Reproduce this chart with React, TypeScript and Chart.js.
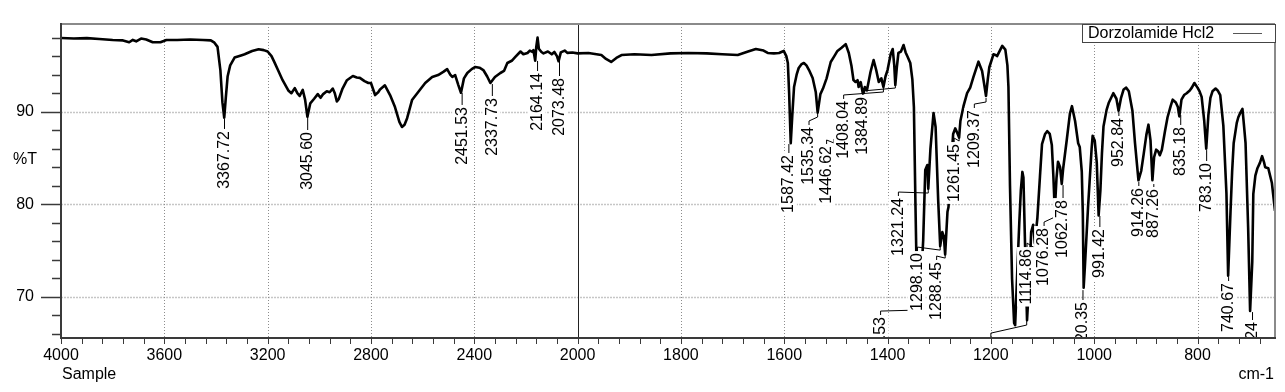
import React, { useEffect, useRef } from "react";
import { Chart, registerables } from "chart.js";

Chart.register(...registerables);

const FONT = 'Arial, "Liberation Sans", sans-serif';

// ---- Spectrum (wavenumber cm-1, %T) ----
const wavenumbers = [
  4000, 3950, 3900, 3852, 3800, 3760, 3736, 3722, 3709, 3690, 3670, 3645, 3615, 3592, 3550, 3500, 3450, 3420,
  3406, 3394, 3383, 3375, 3368, 3362, 3355, 3345, 3328, 3300, 3289, 3260, 3235, 3215, 3200, 3185, 3173, 3160,
  3142, 3120, 3108, 3095, 3085, 3076, 3064, 3055, 3046, 3035, 3020, 3006, 2995, 2985, 2971, 2960, 2948, 2940,
  2932, 2925, 2910, 2893, 2870, 2855, 2843, 2825, 2810, 2800, 2784, 2772, 2765, 2746, 2726, 2707, 2690, 2680,
  2670, 2660, 2641, 2617, 2590, 2563, 2540, 2520, 2505, 2493, 2485, 2474, 2462, 2451.5, 2440, 2427, 2410, 2396,
  2380, 2365, 2350, 2337.7, 2320, 2299, 2285, 2272, 2255, 2241, 2221, 2210, 2194, 2185, 2175, 2171, 2164.1, 2160,
  2155, 2150, 2140, 2132, 2115, 2100, 2090, 2080, 2073.5, 2065, 2050, 2039, 2020, 2000,
  1979, 1954, 1945, 1935, 1925, 1915, 1890, 1857, 1820, 1786, 1750, 1720, 1690, 1670, 1655, 1640, 1632, 1620,
  1610, 1601, 1596, 1593, 1590.5, 1587.4, 1584, 1581, 1576, 1572, 1567, 1562, 1557, 1552, 1545, 1539, 1535.3,
  1530, 1525, 1518, 1510, 1503, 1497, 1489, 1481, 1475, 1470, 1466, 1462, 1458, 1456, 1452, 1448, 1446.6, 1444,
  1440, 1433, 1427, 1422, 1417, 1412, 1408, 1404, 1400, 1394, 1390, 1387, 1385, 1382, 1379, 1374, 1369, 1365,
  1361, 1356, 1352, 1349, 1346, 1343, 1341, 1339, 1336, 1334, 1331, 1327, 1323, 1321.2, 1317, 1311, 1307, 1302, 1298.1,
  1294, 1291, 1288.5, 1284, 1282, 1278, 1275, 1273, 1269, 1265, 1261.5, 1259, 1253, 1246, 1240, 1234, 1224,
  1217, 1213, 1209.4, 1206, 1203, 1195, 1190, 1188, 1178, 1172, 1168, 1166, 1163, 1159, 1155, 1153, 1149, 1145,
  1142, 1139, 1137, 1134, 1130, 1126, 1122, 1118, 1114.9, 1110, 1105, 1101, 1095, 1091, 1086, 1082, 1079,
  1076.3, 1073, 1070, 1066, 1062.8, 1060, 1053, 1047, 1043, 1037, 1031, 1028, 1024, 1022, 1020.4, 1018, 1012,
  1005, 1003, 999, 995, 991.4, 988, 985, 982, 976, 972, 963, 957, 952.8, 948, 943, 938, 933, 926, 921, 917,
  914.3, 909, 904, 899, 895, 891, 887.3, 884, 880, 876, 873, 869, 863, 858, 852, 848, 842, 838, 835.2, 831, 826,
  821, 815, 811, 806, 800, 796, 792, 787, 783.1, 779, 775, 771, 765, 761, 756, 750, 744, 740.7, 736, 733, 730,
  724, 721, 717, 713, 710, 707, 702, 698.2, 694, 692, 688, 684, 679, 675, 671, 669, 663, 656, 650,
];
const transmittance = [
  97.96, 97.9, 97.95, 97.85, 97.75, 97.7, 97.5, 97.75, 97.6, 97.9, 97.8, 97.5, 97.5, 97.75, 97.75, 97.8, 97.75, 97.7,
  97.45, 97.0, 94.5, 91.0, 89.35, 91.5, 93.8, 95.0, 95.85, 96.1, 96.2, 96.55, 96.75, 96.65, 96.5, 96.0, 95.3, 94.5,
  93.4, 92.3, 92.0, 92.55, 92.0, 91.7, 92.35, 91.3, 89.45, 90.9, 91.4, 91.9, 91.5, 91.9, 92.2, 92.1, 92.5, 92.0,
  91.1, 91.35, 92.5, 93.4, 93.85, 93.7, 93.65, 93.3, 93.1, 93.1, 91.8, 92.1, 92.4, 92.85, 91.8, 90.5, 88.9, 88.35,
  88.6, 89.3, 91.26, 92.13, 93.1, 93.75, 93.96, 94.3, 94.6, 94.0, 93.75, 93.96, 92.9, 92.05, 93.6, 94.18, 94.6, 94.83,
  94.75, 94.5, 93.8, 93.1, 93.75, 94.18, 94.4, 95.26, 95.5, 95.91, 96.5, 96.2, 96.34, 96.6, 96.45, 96.66, 95.5, 97.0,
  98.0, 96.8, 96.45, 96.3, 96.5, 96.2, 96.45, 96.0, 95.45, 96.4, 96.6, 96.35, 96.4, 96.3,
  96.34, 96.12, 95.7, 95.37, 95.8, 96.12, 96.2, 96.12, 96.3, 96.34, 96.3, 96.2, 96.12, 96.5, 96.77, 96.6, 96.34, 96.3,
  96.34, 96.56, 96.0, 95.26, 92.0, 86.6, 90.0, 92.67, 94.0, 94.72, 95.1, 95.26, 95.0, 94.5, 93.64, 92.13, 89.9,
  91.9, 92.5, 93.6, 95.37, 96.0, 96.56, 96.9, 97.3, 96.34, 95.0, 93.42, 93.21, 93.4, 92.67, 93.2, 92.02, 92.0, 92.67,
  92.3, 94.29, 95.58, 94.5, 93.21, 93.6, 92.67, 93.8, 94.5, 96.2, 96.77, 95.0, 92.88, 94.8, 96.34, 96.5, 97.2, 96.4,
  95.91, 95.26, 93.5, 90.5, 80.0, 70.5, 68.8, 69.5, 71.5, 73.0, 76.14, 83.7, 84.24, 81.7, 86.0, 89.86, 88.35, 80.46, 75.49,
  77.0, 76.5, 74.6, 79.2, 79.71, 83.6, 86.0, 87.6, 88.2, 87.7, 87.2, 89.0, 90.6, 92.0, 92.6, 93.7, 95.4,
  94.4, 93.0, 91.7, 93.5, 94.8, 96.2, 96.1, 96.0, 97.1, 96.7, 95.0, 92.67, 82.0, 72.0, 67.2, 66.96, 72.58, 77.98,
  81.5, 83.5, 82.9, 76.0, 67.5, 71.5, 77.0, 77.8, 75.8, 78.5, 83.0, 86.5, 87.6, 87.9, 87.6, 86.4, 83.0,
  79.3, 82.8, 84.6, 84.0, 82.2, 83.9, 87.0, 89.8, 90.6, 89.0, 86.6, 86.2, 83.5, 79.0, 71.0, 73.3, 79.6,
  86.0, 87.4, 86.9, 84.5, 78.8, 81.5, 85.5, 88.4, 90.2, 90.94, 92.0, 91.4, 90.1, 91.5, 92.4, 92.6, 92.2, 90.1, 86.6, 84.2,
  82.6, 83.6, 85.5, 87.5, 88.6, 86.9, 82.6, 85.1, 85.9, 85.7, 85.3, 85.9, 87.9, 89.4, 90.6, 91.3, 91.0, 90.5, 89.5, 91.3, 91.8,
  92.0, 92.3, 92.6, 93.1, 92.6, 92.2, 91.6, 89.0, 86.0, 89.6, 91.5, 92.2, 92.5, 92.3, 91.8, 88.5, 81.2, 72.3, 79.4, 83.5, 86.6,
  88.8, 89.4, 89.9, 90.3, 88.5, 86.6, 77.5, 68.5, 73.8, 81.1, 83.1, 83.9, 84.5, 85.2, 84.5, 84.0, 83.9, 82.3, 79.3,
];

// ---- Axis ticks ----
const tickWavenumbers = [4000, 3600, 3200, 2800, 2400, 2000, 1800, 1600, 1400, 1200, 1000, 800];
const yTickValues = [70, 80, 90];
const yRange = [65.57, 99.47];

// ---- Peak labels ----
const peakTexts = [
  "3367.72", "3045.60", "2451.53", "2337.73", "2164.14", "2073.48", "1587.42", "1535.34", "1446.62", "1408.04",
  "1384.89", "1353.53", "1321.24", "1298.10", "1288.45", "1261.45", "1209.37", "1130.65", "1114.86", "1076.28",
  "1062.78", "1020.35", "991.42", "952.84", "914.26", "887.26", "835.18", "783.10", "740.67", "698.24",
];
// where each leader line ends (wavenumber, %T)
const leaderToW = [
  3367.72, 3045.6, 2451.53, 2337.73, 2164.14, 2073.48, 1587.42, 1535.34, 1504, 1408.04,
  1384.89, 1353.53, 1321.24, 1298.1, 1288.45, 1261.45, 1209.37, 1130.65, 1114.86, 1076.28,
  1062.78, 1020.35, 991.42, 952.84, 914.26, 887.26, 835.18, 783.1, 740.67, 698.24,
];
const leaderToT = [
  89.21, 89.54, 92.02, 92.99, 95.48, 95.48, 86.51, 89.86, 87.06, 92.56,
  92.99, 69.0, 81.65, 75.49, 74.63, 87.27, 91.48, 67.4, 75.71, 79.06,
  82.08, 70.74, 78.74, 89.97, 82.41, 82.19, 89.64, 85.86, 72.15, 68.37,
];
// label placement: text centre (wavenumber) and text top (%T)
const labelAtW = [
  3367, 3045, 2447, 2330, 2155, 2070, 1591, 1552, 1518, 1485,
  1448, 1413.5, 1379, 1342, 1305, 1271, 1232, 1200, 1130, 1097,
  1060.3, 1021.7, 989, 952.2, 913.6, 884.6, 832.5, 782.3, 739.8, 693.5,
];
const labelTopT = [
  87.92, 87.81, 90.51, 91.48, 94.18, 93.64, 85.32, 88.35, 86.3, 91.16,
  91.59, 67.83, 80.68, 74.74, 73.77, 86.51, 90.18, 65.45, 75.17, 77.44,
  80.46, 69.45, 77.33, 89.32, 81.76, 81.65, 88.35, 84.46, 71.5, 67.29,
];

// broken axis: 4000-2000 compressed, 2000-650 expanded x2
const W_MAX = 4000;
const W_BREAK = 2000;
const W_MIN = 650;
const toAxis = (w: number) => (w >= W_BREAK ? W_MAX - w : W_MAX - W_BREAK + 2 * (W_BREAK - w));
const fromAxis = (p: number) => (p <= W_MAX - W_BREAK ? W_MAX - p : W_BREAK - (p - (W_MAX - W_BREAK)) / 2);

export default function App() {
  const ref = useRef<HTMLCanvasElement>(null);

  useEffect(() => {
    const canvas = ref.current;
    if (!canvas) return;

    const line = (ctx: CanvasRenderingContext2D, x1: number, y1: number, x2: number, y2: number) => {
      ctx.beginPath();
      ctx.moveTo(x1, y1);
      ctx.lineTo(x2, y2);
      ctx.stroke();
    };

    const overlay = {
      id: "irOverlay",
      beforeDatasetsDraw(chart: any) {
        const { ctx, chartArea: a } = chart;
        const xs = chart.scales.x;
        const ys = chart.scales.y;
        ctx.save();
        ctx.strokeStyle = "#c6c6c6";
        ctx.lineWidth = 1.5;
        ctx.setLineDash([2, 1]);
        yTickValues.forEach((v) => {
          const py = Math.round(ys.getPixelForValue(v)) + 0.5;
          line(ctx, a.left, py, a.right, py);
        });
        ctx.strokeStyle = "#8c8c8c";
        ctx.lineWidth = 1;
        ctx.setLineDash([1, 2]);
        tickWavenumbers.forEach((w) => {
          if (w === W_MAX || w === W_BREAK) return;
          const px = Math.round(xs.getPixelForValue(toAxis(w))) + 0.5;
          line(ctx, px, a.top, px, a.bottom);
        });
        ctx.setLineDash([]);
        ctx.strokeStyle = "#222";
        const bx = Math.round(xs.getPixelForValue(toAxis(W_BREAK))) + 0.5;
        line(ctx, bx, a.top, bx, a.bottom);
        ctx.restore();
      },
      afterDatasetsDraw(chart: any) {
        const { ctx, chartArea: a } = chart;
        const xs = chart.scales.x;
        const ys = chart.scales.y;
        const X = (w: number) => xs.getPixelForValue(toAxis(w));
        const Y = (t: number) => ys.getPixelForValue(t);

        // peak labels (clipped to plot area)
        ctx.save();
        ctx.beginPath();
        ctx.rect(a.left, a.top, a.right - a.left, a.bottom - a.top);
        ctx.clip();
        ctx.font = `16px ${FONT}`;
        ctx.strokeStyle = "#000";
        ctx.lineWidth = 1;
        peakTexts.forEach((_, i) => {
          const lx = X(labelAtW[i]);
          const ly = Y(labelTopT[i]);
          const ex = X(leaderToW[i]);
          const ey = Y(leaderToT[i]);
          ctx.beginPath();
          if (Math.abs(lx - ex) < 3) {
            ctx.moveTo(lx, ly - 2);
            ctx.lineTo(lx, ey);
          } else {
            ctx.moveTo(lx, ly - 2);
            ctx.lineTo(lx, ly - 6);
            ctx.lineTo(ex, ey + 4);
            ctx.lineTo(ex, ey);
          }
          ctx.stroke();
        });
        peakTexts.forEach((txt, i) => {
          const lx = X(labelAtW[i]);
          const ly = Y(labelTopT[i]);
          const tw = ctx.measureText(txt).width;
          ctx.save();
          ctx.translate(lx, ly);
          ctx.rotate(-Math.PI / 2);
          ctx.fillStyle = "#fff";
          ctx.fillRect(-tw - 2, -10, tw + 4, 18);
          ctx.fillStyle = "#000";
          ctx.textAlign = "right";
          ctx.textBaseline = "middle";
          ctx.fillText(txt, 0, 0);
          ctx.restore();
        });
        ctx.restore();

        ctx.save();
        // frame
        ctx.lineWidth = 2;
        ctx.strokeStyle = "#8a8a8a";
        line(ctx, a.left, a.top, a.right, a.top);
        line(ctx, a.right, a.top, a.right, a.bottom);
        ctx.strokeStyle = "#3a3a3a";
        line(ctx, a.left, a.top - 1, a.left, a.bottom + 1);
        line(ctx, a.left - 1, a.bottom, a.right + 1, a.bottom);

        // y tick marks
        ctx.lineWidth = 1.5;
        for (let v = 66; v <= 98; v += 2) {
          const py = Math.round(ys.getPixelForValue(v)) + 0.5;
          const major = v % 10 === 0;
          line(ctx, major ? a.left - 20 : a.left - 9, py, a.left, py);
        }
        // x tick marks
        ctx.lineWidth = 1;
        const pMax = toAxis(W_MIN);
        for (let p = 0; p <= pMax; p += 80) {
          const px = Math.round(xs.getPixelForValue(p)) + 0.5;
          line(ctx, px, a.bottom, px, a.bottom + 6);
        }

        // legend
        const lgW = 193;
        const lgH = 18;
        const lgX = a.right - lgW;
        ctx.fillStyle = "#fff";
        ctx.fillRect(lgX, a.top, lgW, lgH);
        ctx.strokeStyle = "#444";
        ctx.lineWidth = 1;
        ctx.strokeRect(lgX + 0.5, a.top + 0.5, lgW, lgH);
        ctx.fillStyle = "#000";
        ctx.font = `16px ${FONT}`;
        ctx.textAlign = "left";
        ctx.textBaseline = "middle";
        ctx.fillText(chart.data.datasets[0].label, lgX + 6, a.top + 9.5);
        ctx.strokeStyle = "#555";
        line(ctx, a.right - 42, a.top + 9.5, a.right - 13, a.top + 9.5);

        // axis titles
        ctx.fillStyle = "#000";
        ctx.textBaseline = "middle";
        ctx.fillText("%T", 13, 160);
        ctx.textBaseline = "alphabetic";
        ctx.fillText("Sample", a.left + 1, 379);
        ctx.textAlign = "right";
        ctx.fillText("cm-1", a.right - 1, 379);
        ctx.restore();
      },
    };

    const chart = new Chart(canvas, {
      type: "line",
      data: {
        datasets: [
          {
            label: "Dorzolamide Hcl2",
            data: wavenumbers.map((w, i) => ({ x: toAxis(w), y: transmittance[i] })),
            borderColor: "#000",
            borderWidth: 2.6,
            pointRadius: 0,
            tension: 0,
            fill: false,
          },
        ],
      },
      options: {
        animation: false,
        responsive: false,
        devicePixelRatio: 1,
        layout: { padding: { top: 24, right: 10, left: 0, bottom: 0 } },
        plugins: { legend: { display: false }, tooltip: { enabled: false } },
        elements: { line: { borderJoinStyle: "round" } },
        scales: {
          x: {
            type: "linear",
            min: 0,
            max: toAxis(W_MIN),
            afterBuildTicks: (s: any) => {
              s.ticks = tickWavenumbers.map((w) => ({ value: toAxis(w) }));
            },
            afterFit: (s: any) => {
              s.height = 54;
              s.paddingLeft = 0;
              s.paddingRight = 0;
            },
            ticks: {
              autoSkip: false,
              maxRotation: 0,
              padding: 8,
              color: "#000",
              font: { family: FONT, size: 16 },
              callback: (v: any) => String(Math.round(fromAxis(Number(v)))),
            },
            grid: { display: false, drawTicks: false },
            border: { display: false },
          },
          y: {
            type: "linear",
            min: yRange[0],
            max: yRange[1],
            afterBuildTicks: (s: any) => {
              s.ticks = yTickValues.map((v) => ({ value: v }));
            },
            afterFit: (s: any) => {
              s.width = 61;
              s.paddingTop = 0;
              s.paddingBottom = 0;
            },
            ticks: {
              padding: 27,
              color: "#000",
              font: { family: FONT, size: 16 },
            },
            grid: { display: false, drawTicks: false },
            border: { display: false },
          },
        },
      } as any,
      plugins: [overlay as any],
    });

    return () => chart.destroy();
  }, []);

  return (
    <div style={{ position: "fixed", left: 0, top: 0, width: 1285, height: 392, background: "#fff" }}>
      <canvas ref={ref} width={1285} height={392} style={{ display: "block", width: 1285, height: 392 }} />
    </div>
  );
}
